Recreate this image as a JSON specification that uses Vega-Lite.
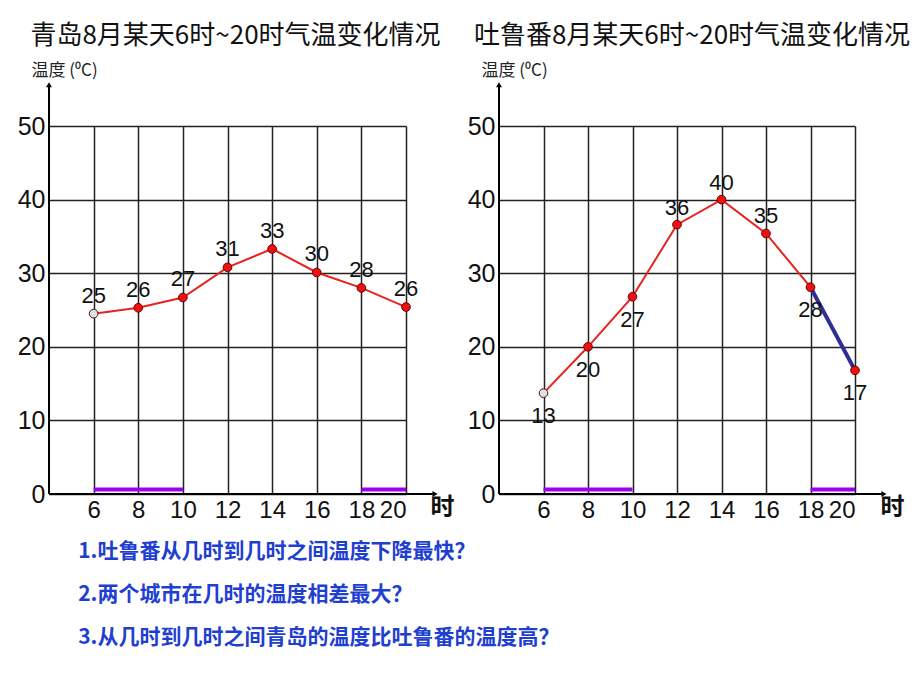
{
  "$schema": "https://vega.github.io/schema/vega-lite/v6.json",
  "background": "white",
  "padding": {"left": 17, "top": 23, "right": 5, "bottom": 5},
  "datasets": {
    "qingdao": [
      {"hour": 6, "temp": 24.5, "label": 25},
      {"hour": 8, "temp": 25.3, "label": 26},
      {"hour": 10, "temp": 26.7, "label": 27},
      {"hour": 12, "temp": 30.8, "label": 31},
      {"hour": 14, "temp": 33.3, "label": 33},
      {"hour": 16, "temp": 30.1, "label": 30},
      {"hour": 18, "temp": 28.0, "label": 28},
      {"hour": 20, "temp": 25.4, "label": 26}
    ],
    "turpan": [
      {"hour": 6, "temp": 13.7, "label": 13},
      {"hour": 8, "temp": 20.0, "label": 20},
      {"hour": 10, "temp": 26.8, "label": 27},
      {"hour": 12, "temp": 36.6, "label": 36},
      {"hour": 14, "temp": 40.0, "label": 40},
      {"hour": 16, "temp": 35.4, "label": 35},
      {"hour": 18, "temp": 28.1, "label": 28},
      {"hour": 20, "temp": 16.8, "label": 17}
    ],
    "spans": [
      {"start": 6, "end": 10},
      {"start": 18, "end": 20}
    ],
    "one": [{}]
  },
  "spacing": 93,
  "bounds": "flush",
  "config": {
    "view": {"stroke": null},
    "font": "Liberation Sans",
    "axis": {
      "grid": true,
      "gridColor": "#222222",
      "gridWidth": 1.5,
      "gridOpacity": 1,
      "domain": false,
      "ticks": false,
      "labelColor": "#111111",
      "labelFont": "Liberation Sans"
    }
  },
  "title": {
    "text": ["1.吐鲁番从几时到几时之间温度下降最快？", "2.两个城市在几时的温度相差最大？", "3.从几时到几时之间青岛的温度比吐鲁番的温度高？"],
    "orient": "bottom",
    "anchor": "start",
    "frame": "bounds",
    "font": "Noto Sans CJK SC",
    "fontSize": 21,
    "fontWeight": "bold",
    "color": "#1f3fd1",
    "lineHeight": 43,
    "offset": 19,
    "dx": 61
  },
  "hconcat": [
    {
      "width": 357,
      "height": 368,
      "title": {"text": "青岛8月某天6时~20时气温变化情况", "font": "Noto Sans CJK SC", "fontSize": 26, "fontWeight": "normal", "color": "#111111", "anchor": "middle", "dx": 8, "offset": 12},
      "layer": [
        {
          "data": {"name": "qingdao"},
          "mark": {"type": "line", "color": "#e8231f", "strokeWidth": 2},
          "encoding": {
            "x": {"field": "hour", "type": "quantitative", "scale": {"domain": [4, 20], "nice": false, "zero": false},
              "axis": {"values": [6, 8, 10, 12, 14, 16, 18, 20], "labelFontSize": 24, "labelPadding": 4, "title": "时", "titleFont": "Noto Sans CJK SC", "titleFontSize": 24, "titleFontWeight": "bold", "titleColor": "#111111", "titleX": 393, "titleY": 13, "titleAlign": "center", "titleBaseline": "middle", "titleAngle": 0}},
            "y": {"field": "temp", "type": "quantitative", "scale": {"domain": [0, 50], "nice": false},
              "axis": {"values": [0, 10, 20, 30, 40, 50], "labelFontSize": 25, "labelPadding": 4, "title": "温度 (⁰C)", "titleFont": "Noto Sans CJK SC", "titleFontSize": 17, "titleFontWeight": "normal", "titleColor": "#222222", "titleAngle": 0, "titleAlign": "left", "titleBaseline": "middle", "titleX": -18, "titleY": -56}}
          }
        },
        {
          "data": {"name": "spans"},
          "mark": {"type": "rule", "color": "#9b00f0", "strokeWidth": 4},
          "encoding": {"x": {"field": "start", "type": "quantitative"}, "x2": {"field": "end"}, "y": {"datum": 0.6}}
        },
        {
          "data": {"name": "one"},
          "mark": {"type": "rule", "color": "#000000", "strokeWidth": 2},
          "encoding": {"x": {"datum": 4}, "y": {"datum": 0}, "y2": {"datum": 55.3}}
        },
        {
          "data": {"name": "one"},
          "mark": {"type": "rule", "color": "#000000", "strokeWidth": 2},
          "encoding": {"x": {"datum": 4}, "x2": {"datum": 21.2}, "y": {"datum": 0}}
        },
        {
          "data": {"name": "one"},
          "mark": {"type": "point", "shape": "triangle-up", "filled": true, "color": "#000000", "size": 35, "opacity": 1},
          "encoding": {"x": {"datum": 4}, "y": {"datum": 55.6}}
        },
        {
          "data": {"name": "one"},
          "mark": {"type": "point", "shape": "triangle-right", "filled": true, "color": "#000000", "size": 35, "opacity": 1},
          "encoding": {"x": {"datum": 21.3}, "y": {"datum": 0}}
        },
        {
          "data": {"name": "qingdao"},
          "mark": {"type": "point", "filled": true, "size": 75, "stroke": "#6a0000", "strokeWidth": 1, "opacity": 1},
          "encoding": {
            "x": {"field": "hour", "type": "quantitative"},
            "y": {"field": "temp", "type": "quantitative"},
            "fill": {"condition": {"test": "datum.hour == 6", "value": "#cfe8ec"}, "value": "#ee1111"}
          }
        },
        {
          "data": {"name": "qingdao"},
          "mark": {"type": "text", "fontSize": 22, "dy": -18, "color": "#111111", "baseline": "middle"},
          "encoding": {
            "x": {"field": "hour", "type": "quantitative"},
            "y": {"field": "temp", "type": "quantitative"},
            "text": {"field": "label"}
          }
        }
      ]
    },
    {
      "width": 356,
      "height": 368,
      "title": {"text": "吐鲁番8月某天6时~20时气温变化情况", "font": "Noto Sans CJK SC", "fontSize": 26, "fontWeight": "normal", "color": "#111111", "anchor": "middle", "dx": 15, "offset": 12},
      "layer": [
        {
          "data": {"name": "turpan"},
          "transform": [{"filter": "datum.hour <= 18"}],
          "mark": {"type": "line", "color": "#e8231f", "strokeWidth": 2},
          "encoding": {
            "x": {"field": "hour", "type": "quantitative", "scale": {"domain": [4, 20], "nice": false, "zero": false},
              "axis": {"values": [6, 8, 10, 12, 14, 16, 18, 20], "labelFontSize": 24, "labelPadding": 4, "title": "时", "titleFont": "Noto Sans CJK SC", "titleFontSize": 24, "titleFontWeight": "bold", "titleColor": "#111111", "titleX": 393, "titleY": 13, "titleAlign": "center", "titleBaseline": "middle", "titleAngle": 0}},
            "y": {"field": "temp", "type": "quantitative", "scale": {"domain": [0, 50], "nice": false},
              "axis": {"values": [0, 10, 20, 30, 40, 50], "labelFontSize": 25, "labelPadding": 4, "title": "温度 (⁰C)", "titleFont": "Noto Sans CJK SC", "titleFontSize": 17, "titleFontWeight": "normal", "titleColor": "#222222", "titleAngle": 0, "titleAlign": "left", "titleBaseline": "middle", "titleX": -18, "titleY": -56}}
          }
        },
        {
          "data": {"name": "turpan"},
          "transform": [{"filter": "datum.hour >= 18"}],
          "mark": {"type": "line", "color": "#2e2e94", "strokeWidth": 4},
          "encoding": {
            "x": {"field": "hour", "type": "quantitative"},
            "y": {"field": "temp", "type": "quantitative"}
          }
        },
        {
          "data": {"name": "spans"},
          "mark": {"type": "rule", "color": "#9b00f0", "strokeWidth": 4},
          "encoding": {"x": {"field": "start", "type": "quantitative"}, "x2": {"field": "end"}, "y": {"datum": 0.6}}
        },
        {
          "data": {"name": "one"},
          "mark": {"type": "rule", "color": "#000000", "strokeWidth": 2},
          "encoding": {"x": {"datum": 4}, "y": {"datum": 0}, "y2": {"datum": 55.3}}
        },
        {
          "data": {"name": "one"},
          "mark": {"type": "rule", "color": "#000000", "strokeWidth": 2},
          "encoding": {"x": {"datum": 4}, "x2": {"datum": 21.2}, "y": {"datum": 0}}
        },
        {
          "data": {"name": "one"},
          "mark": {"type": "point", "shape": "triangle-up", "filled": true, "color": "#000000", "size": 35, "opacity": 1},
          "encoding": {"x": {"datum": 4}, "y": {"datum": 55.6}}
        },
        {
          "data": {"name": "one"},
          "mark": {"type": "point", "shape": "triangle-right", "filled": true, "color": "#000000", "size": 35, "opacity": 1},
          "encoding": {"x": {"datum": 21.3}, "y": {"datum": 0}}
        },
        {
          "data": {"name": "turpan"},
          "mark": {"type": "point", "filled": true, "size": 75, "stroke": "#6a0000", "strokeWidth": 1, "opacity": 1},
          "encoding": {
            "x": {"field": "hour", "type": "quantitative"},
            "y": {"field": "temp", "type": "quantitative"},
            "fill": {"condition": {"test": "datum.hour == 6", "value": "#cfe8ec"}, "value": "#ee1111"}
          }
        },
        {
          "data": {"name": "turpan"},
          "transform": [{"filter": "datum.hour >= 12 && datum.hour <= 16"}],
          "mark": {"type": "text", "fontSize": 22, "dy": -17, "color": "#111111", "baseline": "middle"},
          "encoding": {
            "x": {"field": "hour", "type": "quantitative"},
            "y": {"field": "temp", "type": "quantitative"},
            "text": {"field": "label"}
          }
        },
        {
          "data": {"name": "turpan"},
          "transform": [{"filter": "datum.hour < 12 || datum.hour > 16"}],
          "mark": {"type": "text", "fontSize": 22, "dy": 23, "color": "#111111", "baseline": "middle"},
          "encoding": {
            "x": {"field": "hour", "type": "quantitative"},
            "y": {"field": "temp", "type": "quantitative"},
            "text": {"field": "label"}
          }
        }
      ]
    }
  ]
}
